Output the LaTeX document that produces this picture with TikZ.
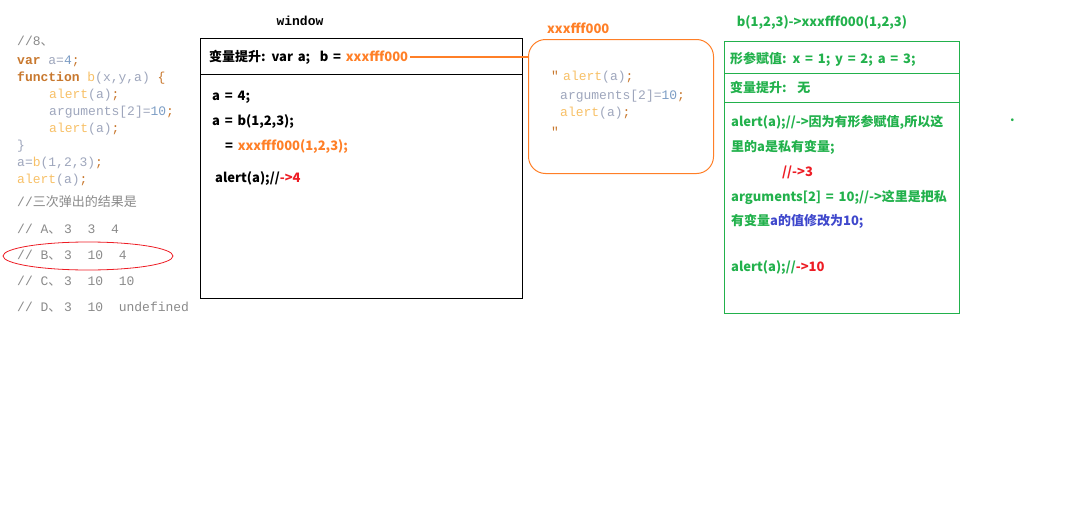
\documentclass[tikz,border=0pt]{standalone}
\usepackage{fontspec}
\usetikzlibrary{shapes.geometric}
\newfontfamily\yh{Noto Sans CJK SC}
\newfontfamily\cjkr{Noto Sans CJK SC}
\newfontfamily\mono{Liberation Mono}
\definecolor{kw}{HTML}{C8782E}
\definecolor{fnc}{HTML}{F7C067}
\definecolor{idc}{HTML}{9EA6BC}
\definecolor{nmc}{HTML}{7B9CC4}
\definecolor{cmc}{HTML}{8A8A8A}
\definecolor{orn}{HTML}{FF7F27}
\definecolor{grn}{HTML}{22B14C}
\definecolor{rd}{HTML}{ED1C24}
\definecolor{blu}{HTML}{3F48CC}
\newcommand\ckw[1]{\textcolor{kw}{\bfseries #1}}
\newcommand\cfn[1]{\textcolor{fnc}{#1}}
\newcommand\cid[1]{\textcolor{idc}{#1}}
\newcommand\cnm[1]{\textcolor{nmc}{#1}}
\newcommand\csm[1]{\textcolor{kw}{#1}}
\newcommand\cdun{\makebox[15.8pt][l]{\cjkr 、}}
\newcommand\yhfont{\yh\bfseries\fontsize{13}{15}\selectfont\spaceskip 4.8pt plus 1pt\relax}
\begin{document}
\begin{tikzpicture}[x=1pt,y=-1pt,
  code/.style={anchor=west,inner sep=0pt,font=\mono\fontsize{13}{15}\selectfont},
  cmt/.style={code,text=cmc},
  yht/.style={anchor=west,inner sep=0pt,font=\yhfont},
  gt/.style={yht,text=grn},
  boxline/.style={line width=1pt}]
\useasboundingbox (0,0) rectangle (1084,514);
% left code
\node[cmt] (c1) at (17,41) {//8\cdun};
\node[code] (c2) at (17,61) {\ckw{var} \cid{a=}\cnm{4}\csm{;}};
\node[code] (c3) at (17,78) {\ckw{function} \cfn{b}\cid{(x,y,a)} \csm{\{}};
\node[code] (c4) at (49,95) {\cfn{alert}\cid{(a)}\csm{;}};
\node[code] (c5) at (49,112) {\cid{arguments[2]=}\cnm{10}\csm{;}};
\node[code] (c6) at (49,129) {\cfn{alert}\cid{(a)}\csm{;}};
\node[code] (c7) at (17,146) {\cid{\}}};
\node[code] (c8) at (17,163) {\cid{a=}\cfn{b}\cid{(1,2,3)}\csm{;}};
\node[code] (c9) at (17,180) {\cfn{alert}\cid{(a)}\csm{;}};
\node[cmt] (c10) at (17,202) {//{\cjkr 三次弹出的结果是}};
\node[cmt] (c11) at (17,229) {//~A\cdun 3~~3~~4};
\node[cmt] (c12) at (17,255) {//~B\cdun 3~~10~~4};
\node[cmt] (c13) at (17,281) {//~C\cdun 3~~10~~10};
\node[cmt] (c14) at (17,307) {//~D\cdun 3~~10~~undefined};
\node[draw=rd,ellipse,line width=0.8pt,minimum width=170,minimum height=28,inner sep=0pt] (ell) at (88,256) {};
% window box
\node[font=\mono\bfseries\fontsize{13}{15}\selectfont,inner sep=0pt] (wlab) at (300,21) {window};
\node[draw,boxline,minimum width=322,minimum height=260,anchor=north west,inner sep=0pt] (win) at (200,38) {};
\draw[boxline] (200,74) -- (522,74);
\node[yht] (hdr) at (209,57) {变量提升: var a;~ b = \textcolor{orn}{xxxfff000}};
\node[yht] (w1) at (212,97) {a = 4;};
\node[yht] (w2) at (212,122) {a = b(1,2,3);};
\node[yht] (w3) at (225,147) {= \textcolor{orn}{xxxfff000(1,2,3);}};
\node[yht] (w4) at (215,179) {alert(a);//\textcolor{rd}{->4}};
% function box
\node[draw=orn,boxline,rounded corners=17pt,minimum width=185,minimum height=134,anchor=north west,inner sep=0pt] (fbox) at (528,39) {};
\node[yht,text=orn] (flab) at (547,28) {xxxfff000};
\draw[orn,line width=1.3pt] ([xshift=2pt]hdr.east) -- (hdr.east -| fbox.west);
\node[code] (f0) at (551,76) {\csm{"}};
\node[code] (f1) at (563,77) {\cfn{alert}\cid{(a)}\csm{;}};
\node[code] (f2) at (560,96) {\cid{arguments[2]=}\cnm{10}\csm{;}};
\node[code] (f3) at (560,113) {\cfn{alert}\cid{(a)}\csm{;}};
\node[code] (f4) at (551,132) {\csm{"}};
% green box
\node[gt,anchor=center] (glab) at (822,23) {b(1,2,3)->xxxfff000(1,2,3)};
\node[draw=grn,boxline,minimum width=235,minimum height=272,anchor=north west,inner sep=0pt] (gbox) at (724,41) {};
\draw[grn,boxline] (724,73) -- (959,73);
\draw[grn,boxline] (724,102) -- (959,102);
\node[gt] (g1) at (730,59) {形参赋值: x = 1; y = 2; a = 3;};
\node[gt] (g2) at (730,87) {变量提升:~ 无};
\node[gt] (g3) at (731,122) {alert(a);//->因为有形参赋值,所以这};
\node[gt] (g4) at (731,147) {里的a是私有变量;};
\node[gt,text=rd] (g5) at (782,172) {//->3};
\node[gt] (g6) at (731,197) {arguments[2] = 10;//->这里是把私};
\node[gt] (g7) at (731,221) {有变量\textcolor{blu}{a的值修改为10;}};
\node[gt] (g8) at (731,268) {alert(a);//\textcolor{rd}{->10}};
\node[gt] (dot) at (1010,120) {.};
\end{tikzpicture}
\end{document}
